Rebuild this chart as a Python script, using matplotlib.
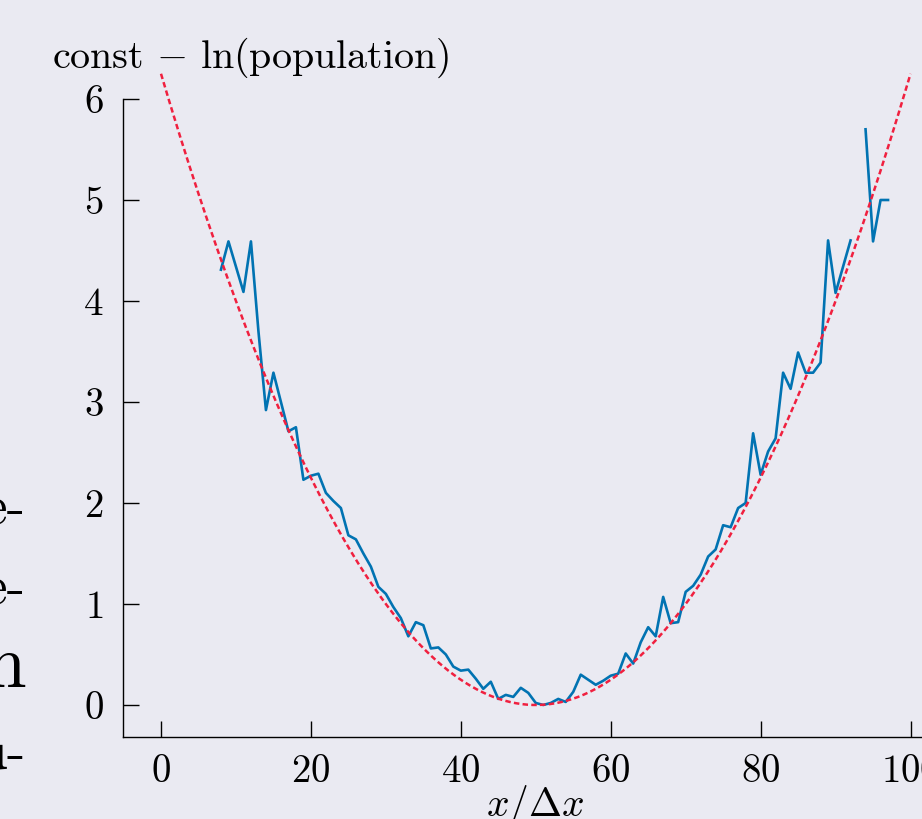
import numpy as np
import matplotlib
matplotlib.use("Agg")
import matplotlib.pyplot as plt

plt.rcParams['font.family'] = 'serif'
plt.rcParams['font.serif'] = ['cmr10']
plt.rcParams['mathtext.fontset'] = 'cm'
plt.rcParams['axes.unicode_minus'] = False
plt.rcParams['axes.formatter.use_mathtext'] = True

bg = '#eaeaf2'
blue = '#0173b2'
red = '#f0203f'

# measured -ln(population) per cell (nan = empty cell)
x_cells = np.arange(8, 98)
log_pop = [4.31, 4.59, 4.34, 4.09, 4.59, 3.70, 2.92, 3.29, 3.00, 2.71,
           2.75, 2.23, 2.27, 2.29, 2.10, 2.02, 1.95, 1.68, 1.64, 1.50,
           1.37, 1.17, 1.10, 0.97, 0.86, 0.68, 0.82, 0.79, 0.56, 0.57,
           0.50, 0.38, 0.34, 0.35, 0.26, 0.16, 0.23, 0.06, 0.10, 0.08,
           0.17, 0.12, 0.02, 0.00, 0.02, 0.06, 0.03, 0.13, 0.30, 0.25,
           0.20, 0.24, 0.29, 0.31, 0.51, 0.41, 0.62, 0.77, 0.68, 1.07,
           0.81, 0.82, 1.12, 1.18, 1.29, 1.47, 1.54, 1.78, 1.76, 1.95,
           2.00, 2.69, 2.28, 2.51, 2.64, 3.29, 3.13, 3.49, 3.29, 3.29,
           3.39, 4.60, 4.08, 4.34, 4.60, np.nan, 5.70, 4.59, 5.00, 5.00]

# quadratic fit: a * (x - x0)^2
fit_a = 1 / 400
fit_x0 = 50
fit_range = (0, 100)

xticks = [0, 20, 40, 60, 80, 100]
yticks = [0, 1, 2, 3, 4, 5, 6]

fig = plt.figure(figsize=(9.22, 8.19), dpi=100, facecolor=bg)
ax = fig.add_axes([123/922, 1 - 737/819, 825/922, 638/819])
ax.set_facecolor(bg)

xf = np.linspace(fit_range[0], fit_range[1], 400)
ax.plot(xf, fit_a * (xf - fit_x0) ** 2, color=red, lw=1.8,
        ls=(0, (2.2, 1.3)), clip_on=False, zorder=3)
ax.plot(x_cells, log_pop, color=blue, lw=1.9, zorder=2)

ax.set_xlim(-5.07, 105)
ax.set_ylim(-0.317, 6.0)
ax.set_xticks(xticks)
ax.set_yticks(yticks)

for s in ['top', 'right']:
    ax.spines[s].set_visible(False)
for s in ['left', 'bottom']:
    ax.spines[s].set_linewidth(1.0)
    ax.spines[s].set_color('black')

ax.tick_params(direction='in', length=11.5, width=1.0, labelsize=28, pad=12,
               colors='black')
ax.tick_params(axis='y', pad=14)

ax.set_xlabel(r'$x/\Delta x$', fontsize=28.5, labelpad=-5)
fig.text(52/922, 1 - 68/819, r'$\mathrm{const}\,-\,\ln(\mathrm{population})$',
         fontsize=28.8, ha='left', va='baseline')

# leftover labels clipped at the left edge of the figure
left_bits = [('e-', 510, 40), ('e-', 590, 40), ('n', 668, 54), ('u-', 755, 40)]
for txt, ypix, fs in left_bits:
    fig.text(26/922, 1 - ypix/819, txt, fontsize=fs, ha='right', va='center')

fig.savefig('out.png', dpi=100, facecolor=bg)
